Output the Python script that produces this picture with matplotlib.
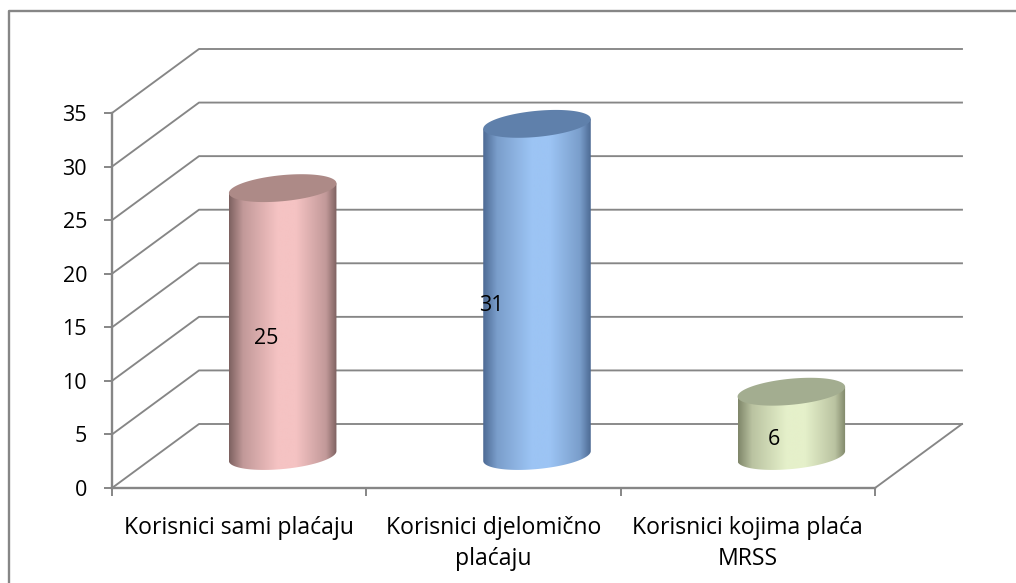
import numpy as np
import matplotlib
matplotlib.use("Agg")
import matplotlib.pyplot as plt
from matplotlib.colors import LinearSegmentedColormap
from matplotlib.lines import Line2D
from matplotlib.patches import Polygon

categories = ["Korisnici sami plaćaju", "Korisnici djelomično\nplaćaju", "Korisnici kojima plaća\nMRSS"]
values = [25, 31, 6]
y_ticks = [0, 5, 10, 15, 20, 25, 30, 35]

# side colours: edge, light middle, top ellipse
bar_edge = ["#7d6160", "#4d6a94", "#7f8669"]
bar_mid = ["#f5c3c3", "#9cc4f4", "#e5f0ca"]
bar_top = ["#ad8a87", "#5f80ab", "#a3ad90"]
label_shift = [27, -2, 26]

W, H = 1016, 583
plt.rcParams['font.family'] = ['Open Sans', 'DejaVu Sans']
GREY = "#868686"
FS = 15.5
FS_CAT = 16.6

fig = plt.figure(figsize=(W / 100, H / 100), dpi=100)
left, right, top, bottom = 112, 875, 113, 488
ax = fig.add_axes([left / W, 1 - bottom / H, (right - left) / W, (bottom - top) / H])
ax.patch.set_alpha(0)

# pixels per unit, used for the fake depth and the ellipses
sx = (right - left) / 3
sy = (bottom - top) / 35
dx = 87 / sx
dy = 64 / sy

# frame round the chart, open on the right and at the bottom
fig.add_artist(Line2D(np.array([9, 9, 1016]) / W, 1 - np.array([583, 10.5, 10.5]) / H, color=GREY, lw=1.7))

# walls
for v in y_ticks:
    ax.plot([0, dx, 3 + dx], [v, v + dy, v + dy], color=GREY, lw=1.35, clip_on=False, zorder=1)
ax.plot([3, 3 + dx], [0, dy], color=GREY, lw=1.35, clip_on=False, zorder=1)


def ellipse(xc, yc, t):
    A, B, th = 54, 13, np.radians(5.5)
    ex = A * np.cos(t) * np.cos(th) - B * np.sin(t) * np.sin(th)
    ey = A * np.cos(t) * np.sin(th) + B * np.sin(t) * np.cos(th)
    return xc + ex / sx, yc + ey / sy


def mix(c1, c2, f):
    return "#" + "".join("%02x" % int(int(c1[k:k + 2], 16) * f + int(c2[k:k + 2], 16) * (1 - f)) for k in (1, 3, 5))


t0 = np.arctan2(-13 * np.sin(np.radians(5.5)), 54 * np.cos(np.radians(5.5)))
tall = np.linspace(0, 2 * np.pi, 120)
tlow = np.linspace(t0 + np.pi, t0 + 2 * np.pi, 80)

for i, v in enumerate(values):
    xc = i + 0.5 + dx / 2
    y0 = dy / 2
    y1 = v + dy / 2
    bx, by = ellipse(xc, y0, tlow)
    tx, ty = ellipse(xc, y1, np.array([t0, t0 + np.pi]))
    pts = np.column_stack([np.r_[bx, tx], np.r_[by, ty]])
    clip = Polygon(pts, closed=True, transform=ax.transData, fc="none", ec="none")
    ax.add_patch(clip)

    cmap = LinearSegmentedColormap.from_list("c", [(0, bar_edge[i]), (0.13, mix(bar_edge[i], bar_mid[i], .42)),
                                                   (0.45, bar_mid[i]), (0.62, bar_mid[i]),
                                                   (0.9, mix(bar_edge[i], bar_mid[i], .42)), (1, bar_edge[i])])
    grad = np.linspace(0, 1, 256).reshape(1, -1)
    im = ax.imshow(grad, cmap=cmap, aspect="auto", extent=[bx.min(), bx.max(), by.min(), ty.max()],
                   zorder=3, clip_on=True, interpolation="bilinear")
    im.set_clip_path(clip)

    ex, ey = ellipse(xc, y1, tall)
    ax.fill(ex, ey, color=bar_top[i], lw=0, zorder=4, clip_on=False)

    ax.text(i + 0.5 + label_shift[i] / sx, v / 2 + dy / 2 - 16 / sy, str(v), ha="center", va="center",
            fontsize=FS, color="black", zorder=5)

ax.set_xlim(0, 3)
ax.set_ylim(0, 35)
ax.set_yticks(y_ticks)
ax.set_xticks([0, 1, 2, 3])
ax.set_xticklabels([])
ax.set_xticks([0.5, 1.5, 2.5], minor=True)
ax.set_xticklabels(categories, minor=True, linespacing=1.42)
ax.tick_params(axis="x", which="major", length=6, width=1.4, color=GREY)
ax.tick_params(axis="x", which="minor", length=0, pad=20, labelsize=FS_CAT)
ax.tick_params(axis="y", length=6, width=1.4, color=GREY, pad=12, labelsize=FS)
for lab in ax.get_xticklabels(minor=True):
    lab.set_verticalalignment("top")
for s in ["top", "right"]:
    ax.spines[s].set_visible(False)
for s in ["left", "bottom"]:
    ax.spines[s].set_color(GREY)
    ax.spines[s].set_linewidth(1.7)

fig.savefig("out.png", dpi=100)
